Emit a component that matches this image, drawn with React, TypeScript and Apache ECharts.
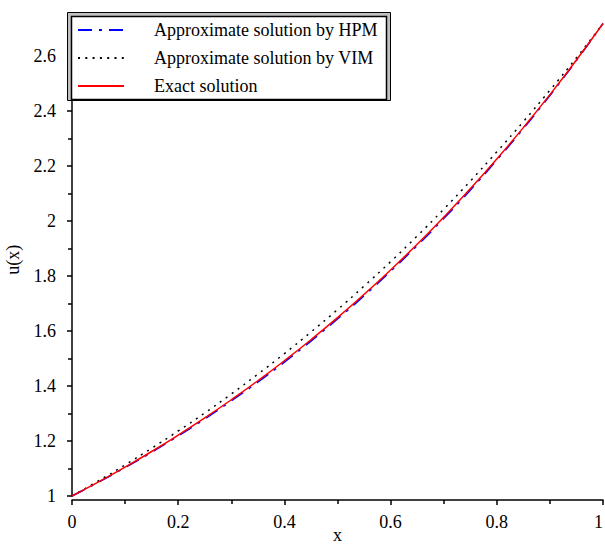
import React, { useEffect, useRef } from "react";
import * as echarts from "echarts";

const xValues = [0, 0.05, 0.1, 0.15, 0.2, 0.25, 0.3, 0.35, 0.4, 0.45, 0.5, 0.55, 0.6, 0.65, 0.7, 0.75, 0.8, 0.85, 0.9, 0.95, 1];
const hpmValues = [1, 1.0503, 1.1032, 1.1588, 1.2184, 1.28, 1.3459, 1.4141, 1.4868, 1.5633, 1.6437, 1.7283, 1.8171, 1.9105, 2.0088, 2.112, 2.2215, 2.3356, 2.4566, 2.5837, 2.7183];
const vimValues = [1, 1.0553, 1.1132, 1.1738, 1.2364, 1.302, 1.3709, 1.4431, 1.5178, 1.5963, 1.6777, 1.7633, 1.8521, 1.9455, 2.0428, 2.145, 2.2515, 2.3616, 2.4756, 2.5937, 2.7183];
const exactValues = [1, 1.0513, 1.1052, 1.1618, 1.2214, 1.284, 1.3499, 1.4191, 1.4918, 1.5683, 1.6487, 1.7333, 1.8221, 1.9155, 2.0138, 2.117, 2.2255, 2.3396, 2.4596, 2.5857, 2.7183];
const seriesNames = ["Approximate solution by HPM", "Approximate solution by VIM", "Exact solution"];

const FONT = "Liberation Serif";

export default function App() {
  const ref = useRef<HTMLDivElement>(null);
  useEffect(() => {
    if (!ref.current) return;
    const chart = echarts.init(ref.current, null, { renderer: "svg" });
    const pairs = (ys: number[]) => xValues.map((x, i) => [x, ys[i]]);
    chart.setOption({
      animation: false,
      backgroundColor: "#ffffff",
      textStyle: { fontFamily: FONT },
      grid: { left: 72, right: 2, top: 23.5, bottom: 49, containLabel: false, outerBoundsMode: "none" },
      xAxis: {
        type: "value",
        min: 0,
        max: 1,
        interval: 0.2,
        offset: 4,
        name: "x",
        nameLocation: "middle",
        nameGap: 26,
        nameMoveOverlap: false,
        nameTextStyle: { fontFamily: FONT, fontSize: 18, color: "#000", lineHeight: 18 },
        axisLine: { show: true, lineStyle: { color: "#000", width: 1.5 } },
        axisTick: { show: true, length: 5, lineStyle: { color: "#000", width: 1.5 } },
        minorTick: { show: true, splitNumber: 2, length: 4, lineStyle: { color: "#000", width: 1.5 } },
        axisLabel: { fontFamily: FONT, fontSize: 18, color: "#000", margin: 13, alignMaxLabel: "right" },
        splitLine: { show: false },
      },
      yAxis: {
        type: "value",
        min: 1,
        max: 2.7183,
        interval: 0.2,
        offset: 4,
        name: "u(x)",
        nameLocation: "middle",
        nameGap: 46,
        nameMoveOverlap: false,
        nameTextStyle: { fontFamily: FONT, fontSize: 18, color: "#000" },
        axisLine: { show: true, lineStyle: { color: "#000", width: 1.5 } },
        axisTick: { show: true, length: 5, lineStyle: { color: "#000", width: 1.5 } },
        minorTick: { show: true, splitNumber: 2, length: 4, lineStyle: { color: "#000", width: 1.5 } },
        axisLabel: { fontFamily: FONT, fontSize: 18, color: "#000", margin: 12, showMaxLabel: false },
        splitLine: { show: false },
      },
      graphic: [
        {
          type: "rect",
          z: 10,
          shape: { x: 67.5, y: 12.5, width: 323, height: 88 },
          style: { fill: "#c0c0c0", stroke: "#000", lineWidth: 1 },
        },
        {
          type: "rect",
          z: 11,
          shape: { x: 71.5, y: 16.5, width: 315, height: 83 },
          style: { fill: "#ffffff", stroke: "#000", lineWidth: 1.5 },
        },
      ],
      legend: {
        z: 20,
        orient: "vertical",
        left: 71,
        top: 17,
        padding: [4, 6, 5, 6],
        itemWidth: 46,
        itemHeight: 14,
        itemGap: 10,
        data: seriesNames,
        itemStyle: { opacity: 0 },
        textStyle: { fontFamily: FONT, fontSize: 18, color: "#000", lineHeight: 17, padding: [0, 0, 0, 25] },
      },
      series: [
        {
          name: seriesNames[0],
          type: "line",
          data: pairs(hpmValues),
          symbol: "none",
          smooth: true,
          lineStyle: { color: "#0000ff", width: 1.5, type: [14, 7, 3, 7] },
          itemStyle: { color: "#0000ff" },
          z: 2,
        },
        {
          name: seriesNames[1],
          type: "line",
          data: pairs(vimValues),
          symbol: "none",
          smooth: true,
          lineStyle: { color: "#000000", width: 1.5, type: [2, 5.3] },
          itemStyle: { color: "#000000" },
          z: 3,
        },
        {
          name: seriesNames[2],
          type: "line",
          data: pairs(exactValues),
          symbol: "none",
          smooth: true,
          lineStyle: { color: "#ff0000", width: 1.5, type: "solid" },
          itemStyle: { color: "#ff0000" },
          z: 4,
        },
      ],
    });
    return () => chart.dispose();
  }, []);
  return (
    <div
      ref={ref}
      style={{ position: "fixed", left: 0, top: 0, width: 605, height: 545 }}
    />
  );
}
